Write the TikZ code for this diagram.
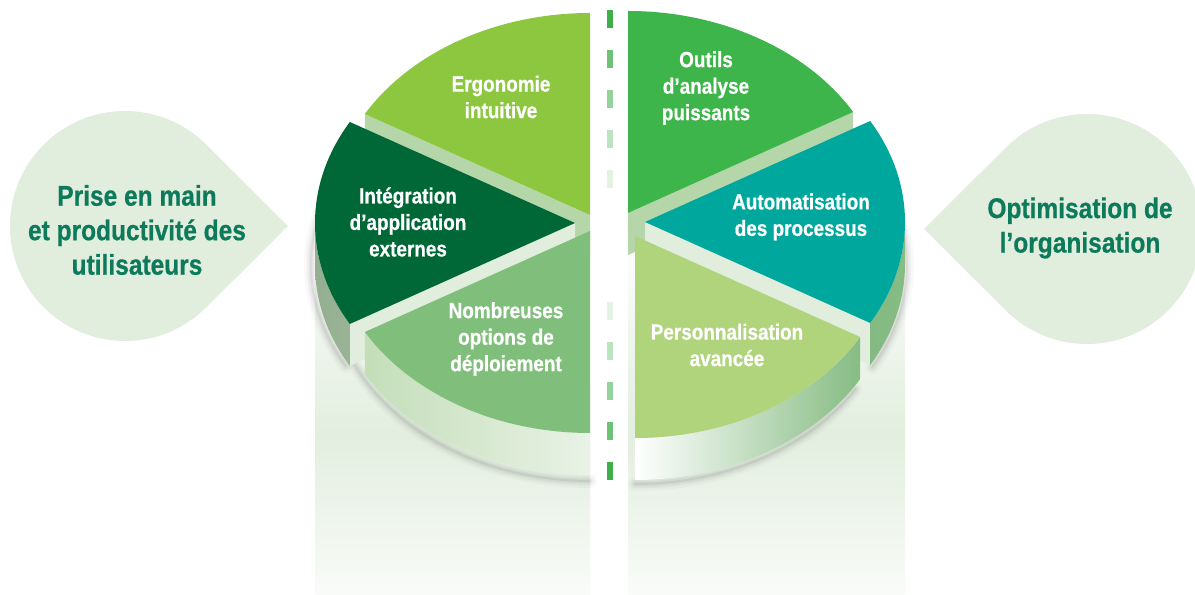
\documentclass[tikz,border=0pt]{standalone}
\usepackage{fontspec}
\usetikzlibrary{calc}
\newfontfamily\cond[FakeStretch=0.86, BoldFeatures={FakeBold=0.6}]{Liberation Sans}
\definecolor{cErgo}{HTML}{8DC63F}
\definecolor{cInteg}{HTML}{006837}
\definecolor{cNomb}{HTML}{80BF7B}
\definecolor{cOut}{HTML}{3DB54A}
\definecolor{cAuto}{HTML}{00A79D}
\definecolor{cPers}{HTML}{B0D47B}
\definecolor{cBandDark}{HTML}{B5D6A8}
\definecolor{cBandLight}{HTML}{E1EEDD}
\definecolor{cDrop}{HTML}{E1EDDD}
\definecolor{cDropText}{HTML}{0C7A5B}
\definecolor{cDash}{HTML}{3DAE4A}
\definecolor{cRefl}{HTML}{E2EEDF}
\definecolor{cSideA}{HTML}{93AE90}
\definecolor{cSideB}{HTML}{C4DEB9}
\definecolor{cSideC}{HTML}{E9F2E6}
\definecolor{cSideD}{HTML}{73AF76}
\definecolor{cSideE}{HTML}{86BC83}
\tikzset{
  lbl/.style={text=white, align=center, inner sep=0pt, font=\cond\bfseries\fontsize{22bp}{26.5bp}\selectfont},
  droptxt/.style={text=cDropText, align=center, inner sep=0pt, font=\cond\bfseries\fontsize{28.5bp}{34.5bp}\selectfont},
  shadowln/.style={draw=black, line cap=round},
  ell/.style={x radius=260, y radius=202},
}
\begin{document}
\begin{tikzpicture}[x=1bp,y=1bp]
\useasboundingbox (0,0) rectangle (1195,595);
\clip (0,0) rectangle (1195,595);
% reflections
\foreach \xa/\xb in {315/590, 628/905} {
  \shade[top color=cRefl, bottom color=cRefl!20] (\xa,0) rectangle (\xb,160);
  \shade[top color=white, bottom color=cRefl] (\xa,160) rectangle (\xb,370);
}
% teardrops
\fill[cDrop] (288,369) -- ($(125,369)+(45:115)$) arc[start angle=45, end angle=315, radius=115] -- cycle;
\fill[cDrop] (924,366) -- ($(1087,366)+(135:115)$) arc[start angle=135, end angle=-135, radius=115] -- cycle;
\node[droptxt] (left) at (137,365) {Prise en main\\et productivité des\\utilisateurs};
\node[droptxt] (right) at (1080,367) {Optimisation de\\l’organisation};
% dashed separator
\foreach \yy/\oo in {10/1, 50/.75, 90/.55, 130/.35, 170/.15, 302/.15, 342/.35, 382/.55, 422/.75, 462/1}
  \fill[cDash, opacity=\oo] (607,{595-\yy}) rectangle (613,{577-\yy});
% shadows
\foreach \lw/\op in {14/.025, 9/.035, 5/.04, 2/.05} {
  \draw[shadowln, line width=\lw, opacity=\op] (590,316) ++(205:260 and 202) arc[start angle=205, end angle=270, ell];
  \draw[shadowln, line width=\lw, opacity=\op] (571,330) ++(165:260 and 202) arc[start angle=165, end angle=210, ell];
  \draw[shadowln, line width=\lw, opacity=\op] (635,313) ++(-90:260 and 202) arc[start angle=-90, end angle=-32, ell];
  \draw[shadowln, line width=\lw, opacity=\op] (647,329) ++(-30:260 and 202) arc[start angle=-30, end angle=10, ell];
}
% ---- back sectors
% Ergonomie
\fill[cBandDark] (590,380) -- ++(150:260 and 202) -- ++(0,-42) -- (590,338) -- cycle;
\fill[cErgo] (590,380) -- ++(90:260 and 202) arc[start angle=90, end angle=150, ell] -- cycle;
% Outils
\fill[cBandDark] (628,382) -- ++(30:260 and 202) -- ++(0,-42) -- (628,340) -- cycle;
\fill[cOut] (628,382) -- ++(30:260 and 202) arc[start angle=30, end angle=90, ell] -- cycle;
% ---- middle sectors
% Integration
\fill[cBandLight] (575,372) -- ++(210:260 and 202) -- ++(0,-42) -- (575,330) -- cycle;
\shade[left color=cSideA, right color=cSideB] (575,372) ++(180:260 and 202) arc[start angle=180, end angle=210, ell] -- ++(0,-42) arc[start angle=210, end angle=180, ell] -- cycle;
\fill[cInteg] (575,372) -- ++(150:260 and 202) arc[start angle=150, end angle=210, ell] -- cycle;
% Automatisation
\fill[cBandLight] (645,373) -- ++(-30:260 and 202) -- ++(0,-42) -- (645,331) -- cycle;
\shade[left color=cSideD, right color=cSideE] (645,373) ++(-30:260 and 202) arc[start angle=-30, end angle=0, ell] -- ++(0,-42) arc[start angle=0, end angle=-30, ell] -- cycle;
\fill[cAuto] (645,373) -- ++(-30:260 and 202) arc[start angle=-30, end angle=30, ell] -- cycle;
% ---- front sectors
% Nombreuses
\shade[left color=cSideB, right color=cSideC] (590,364) ++(210:260 and 202) arc[start angle=210, end angle=270, ell] -- ++(0,-42) arc[start angle=270, end angle=210, ell] -- cycle;
\fill[cNomb] (590,364) -- ++(210:260 and 202) arc[start angle=210, end angle=270, ell] -- cycle;
% Personnalisation
\shade[left color=white, right color=cSideE] (635,359) ++(-90:260 and 202) arc[start angle=-90, end angle=-30, ell] -- ++(0,-42) arc[start angle=-30, end angle=-90, ell] -- cycle;
\fill[cPers] (635,359) -- ++(-90:260 and 202) arc[start angle=-90, end angle=-30, ell] -- cycle;
% labels
\node[lbl] (ergo) at (501,498) {Ergonomie\\intuitive};
\node[lbl] (integ) at (408,373) {Intégration\\d’application\\externes};
\node[lbl] (nomb) at (506,256) {Nombreuses\\options de\\déploiement};
\node[lbl] (outils) at (706,507) {Outils\\d’analyse\\puissants};
\node[lbl] (auto) at (801,378) {Automatisation\\des processus};
\node[lbl] (pers) at (727,250) {Personnalisation\\avancée};
\end{tikzpicture}
\end{document}
